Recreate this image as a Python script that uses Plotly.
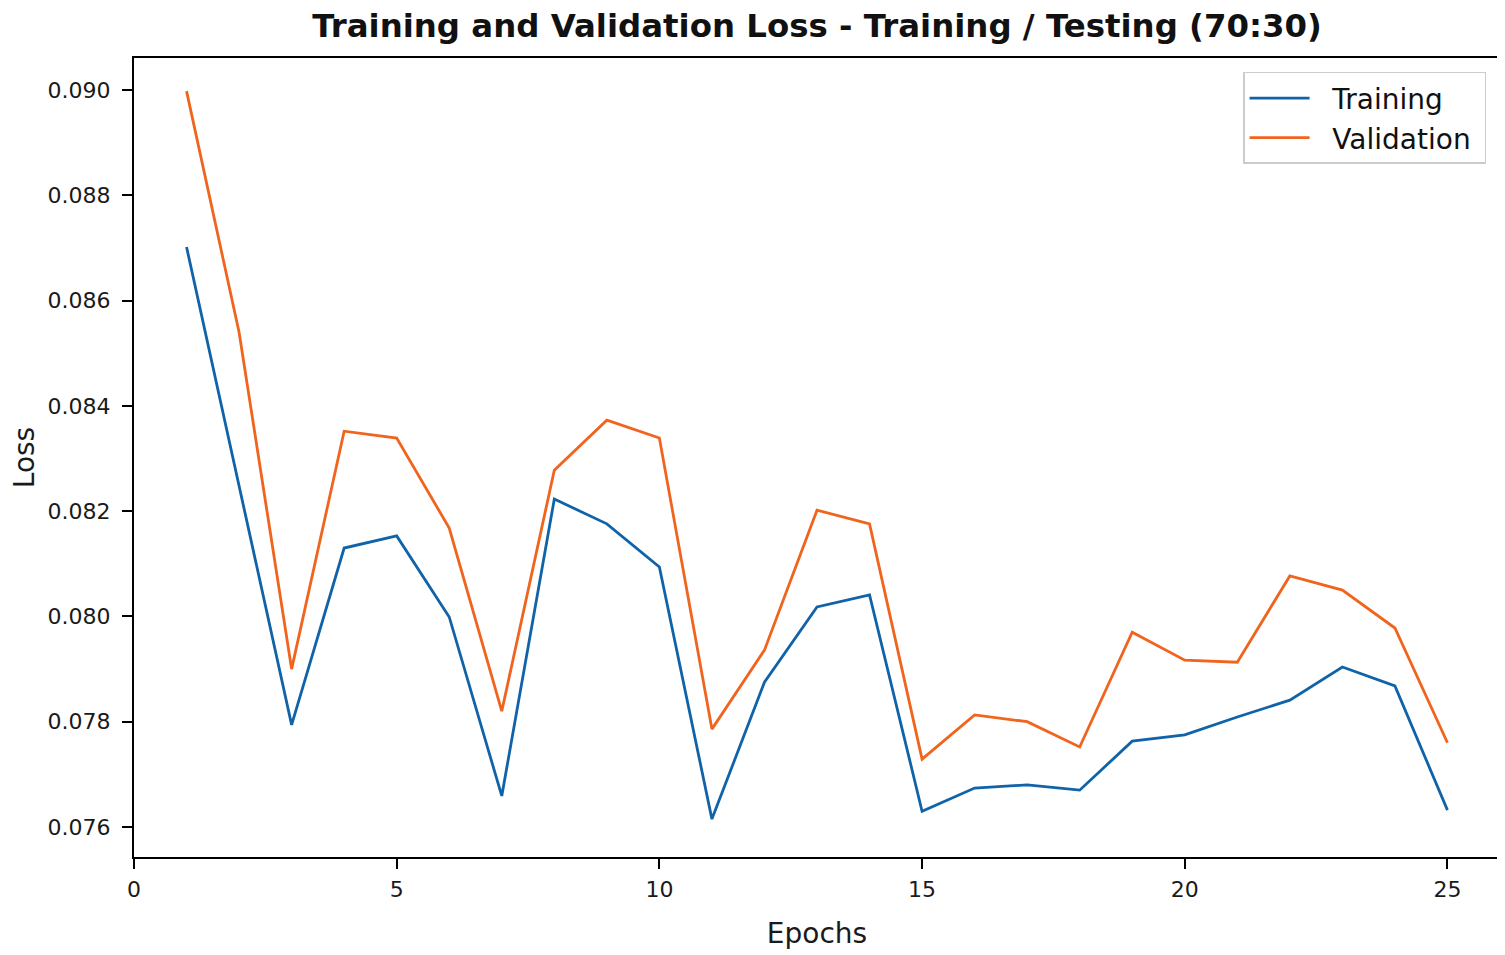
import plotly.graph_objects as go

epochs = list(range(1, 26))
training = [0.08702, 0.0825, 0.07794, 0.0813, 0.08153, 0.07999, 0.07659, 0.08223, 0.08176, 0.08094,
            0.07615, 0.07875, 0.08018, 0.08041, 0.0763, 0.07674, 0.0768, 0.0767, 0.07763, 0.07775,
            0.07809, 0.07841, 0.07904, 0.07868, 0.07632]
validation = [0.08998, 0.0854, 0.079, 0.08352, 0.08339, 0.08168, 0.0782, 0.08278, 0.08373, 0.08339,
              0.07786, 0.07936, 0.08202, 0.08176, 0.07729, 0.07813, 0.078, 0.07752, 0.0797, 0.07917,
              0.07913, 0.08077, 0.0805, 0.07978, 0.0776]
series_names = ["Training", "Validation"]
x_ticks = [0, 5, 10, 15, 20, 25]
y_ticks = [0.076, 0.078, 0.080, 0.082, 0.084, 0.086, 0.088, 0.090]

pad = "\u00a0\u00a0"
fig = go.Figure()
fig.add_trace(go.Scatter(x=epochs, y=training, mode="lines", name=pad + series_names[0] + "\u00a0",
                         line=dict(color="#1063a8", width=2.8)))
fig.add_trace(go.Scatter(x=epochs, y=validation, mode="lines", name=pad + series_names[1] + "\u00a0",
                         line=dict(color="#f0641e", width=2.8)))

font = "DejaVu Sans, sans-serif"
# page body has an 8px margin, so figure coords = page coords - 8
fig.update_layout(
    width=1505, height=955,
    margin=dict(l=126, r=13, t=50, b=106, autoexpand=False),
    paper_bgcolor="white", plot_bgcolor="white",
    font=dict(family=font, color="#1a1a1a", size=22),
    title=dict(text="<b>Training and Validation Loss - Training / Testing (70:30)</b>",
               x=(126 + 1492) / 2 / 1505, xanchor="center", y=1 - 18 / 955, yanchor="middle",
               font=dict(size=32.4, family=font, color="#111111")),
    showlegend=True,
    legend=dict(x=0.9898, xanchor="right", y=0.9825, yanchor="top",
                bgcolor="white", bordercolor="#cccccc", borderwidth=1.5,
                font=dict(size=28, family=font, color="#111111"),
                itemwidth=60, tracegroupgap=0),
    xaxis=dict(range=[0, 26], tickvals=x_ticks, showgrid=False, zeroline=False,
               showline=True, linecolor="black", linewidth=2, mirror=True,
               ticks="outside", ticklen=10, tickwidth=2, tickcolor="black",
               tickfont=dict(size=22), ticklabelstandoff=2, automargin=False,
               title=dict(text="Epochs", font=dict(size=28), standoff=22)),
    yaxis=dict(range=[0.07543, 0.09061], tickvals=y_ticks, tickformat=".3f",
               showgrid=False, zeroline=False,
               showline=True, linecolor="black", linewidth=2, mirror=True,
               ticks="outside", ticklen=10, tickwidth=2, tickcolor="black",
               tickfont=dict(size=22), ticklabelstandoff=7, automargin=False,
               title=dict(text="Loss", font=dict(size=28), standoff=26)),
)

fig.write_html("out.html")
